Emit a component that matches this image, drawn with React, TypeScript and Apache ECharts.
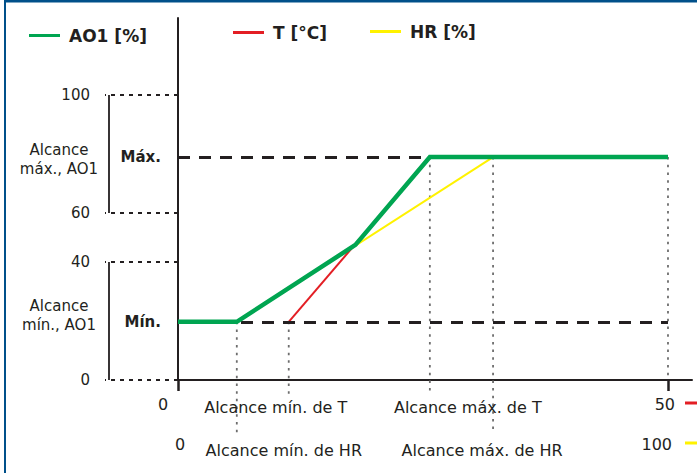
import React, { useEffect, useRef } from 'react';
import * as echarts from 'echarts';

// ---- data ----
// x axis 1: temperature T [°C], 0..50 ; x axis 2: humidity HR [%], 0..100
// y axis: AO1 [%] drawn on a schematic (display) scale
const tNames = ['AO1 [%]', 'T [°C]', 'HR [%]'];
const ao1X = [0, 6.0, 18.1, 25.7, 50]; // in T units
const ao1Y = [20.4, 20.4, 47.4, 78.2, 78.2];
const tX = [11.3, 25.7];
const tY = [20.4, 78.2];
const hrX = [12.0, 64.3];
const hrY = [20.4, 78.2];
const levelNames = ['Máx.', 'Mín.'];
const levelValues = [78.2, 20.4];
const yTickValues = [0, 41.4, 58.6, 100];
const yTickLabels = ['0', '40', '60', '100'];
const xTickValuesT = [0, 50];

const INK = '#231f20';
const GREEN = '#00a551';
const RED = '#e31e24';
const YELLOW = '#fff200';
const BLUE = '#00508a';
const FONT = '"DejaVu Sans", Verdana, sans-serif';

const zip = (xs: number[], ys: number[]) => xs.map((x, i) => [x, ys[i]]);

export default function App() {
  const ref = useRef<HTMLDivElement>(null);
  useEffect(() => {
    const chart = echarts.init(ref.current!, null, { renderer: 'svg' });
    const legendBase = {
      icon: 'rect',
      itemWidth: 31,
      itemHeight: 3,
      selectedMode: false,
      textStyle: { fontSize: 17, fontWeight: 'bold', color: INK, fontFamily: FONT, padding: [0, 0, 0, 4] },
    };
    chart.setOption({
      animation: false,
      textStyle: { fontFamily: FONT },
      legend: [
        { ...legendBase, data: [tNames[0]], left: 24, top: 22 },
        { ...legendBase, data: [tNames[1]], left: 228, top: 19 },
        { ...legendBase, data: [tNames[2]], left: 365, top: 18 },
      ],
      grid: { left: 178, top: 18, width: 514, height: 362, containLabel: false, outerBoundsMode: 'none' },
      xAxis: [
        {
          type: 'value',
          min: 0,
          max: 52.45,
          axisLine: { show: true, onZero: false, lineStyle: { color: INK, width: 2 } },
          axisTick: { show: true, customValues: xTickValuesT, length: 11, lineStyle: { color: INK, width: 2.5 } },
          axisLabel: { show: false },
          splitLine: { show: false },
        },
        {
          type: 'value',
          min: 0,
          max: 104.9,
          show: false,
          splitLine: { show: false },
        },
      ],
      yAxis: {
        type: 'value',
        min: 0,
        max: 127,
        axisLine: { show: true, onZero: false, lineStyle: { color: INK, width: 2 } },
        axisTick: {
          show: true,
          customValues: yTickValues,
          length: 73,
          lineStyle: { color: INK, width: 2, type: [4, 5] },
        },
        axisLabel: {
          show: true,
          customValues: yTickValues,
          margin: 88,
          fontSize: 15,
          color: INK,
          fontFamily: FONT,
          formatter: (v: number) => {
            let best = 0;
            yTickValues.forEach((t, i) => {
              if (Math.abs(t - v) < Math.abs(yTickValues[best] - v)) best = i;
            });
            return yTickLabels[best];
          },
        },
        splitLine: { show: false },
      },
      series: [
        {
          name: tNames[0],
          type: 'line',
          xAxisIndex: 0,
          data: zip(ao1X, ao1Y),
          showSymbol: false,
          symbol: 'none',
          z: 5,
          lineStyle: { color: GREEN, width: 4.5, join: 'miter' },
          itemStyle: { color: GREEN },
        },
        {
          name: tNames[1],
          type: 'line',
          xAxisIndex: 0,
          data: zip(tX, tY),
          showSymbol: false,
          symbol: 'none',
          z: 3,
          lineStyle: { color: RED, width: 2 },
          itemStyle: { color: RED },
          markLine: {
            silent: true,
            symbol: 'none',
            lineStyle: { color: INK, width: 3, type: [12, 9] },
            label: {
              show: true,
              position: 'start',
              distance: 17,
              formatter: (p: any) => p.name,
              fontSize: 15,
              fontWeight: 'bold',
              color: INK,
              fontFamily: FONT,
            },
            emphasis: { disabled: true },
            data: levelValues.map((v, i) => [
              { coord: [xTickValuesT[0], v], name: levelNames[i] },
              { coord: [xTickValuesT[1], v] },
            ]),
          },
        },
        {
          name: tNames[2],
          type: 'line',
          xAxisIndex: 1,
          data: zip(hrX, hrY),
          showSymbol: false,
          symbol: 'none',
          z: 3,
          lineStyle: { color: YELLOW, width: 2 },
          itemStyle: { color: YELLOW },
        },
      ],
    });

    // ---- decorations positioned through the chart's own scales ----
    const yPx = (v: number) => chart.convertToPixel({ yAxisIndex: 0 }, v) as number;
    const tPx = (v: number) => chart.convertToPixel({ xAxisIndex: 0 }, v) as number;
    const hPx = (v: number) => chart.convertToPixel({ xAxisIndex: 1 }, v) as number;
    const yAxisX = tPx(0);
    const xAxisY = yPx(0);
    const bracketX = yAxisX - 69;

    const dotted = (x: number, y1: number, y2: number) => ({
      type: 'line',
      z: 1,
      silent: true,
      shape: { x1: x, y1, x2: x, y2 },
      style: { stroke: '#6d6d6d', lineWidth: 1.8, lineDash: [2.5, 5.2] },
    });
    const solid = (x1: number, y1: number, x2: number, y2: number, color: string, w: number) => ({
      type: 'line',
      z: 1,
      silent: true,
      shape: { x1, y1, x2, y2 },
      style: { stroke: color, lineWidth: w },
    });
    const txt = (x: number, y: number, text: string, opts: any = {}) => ({
      type: 'text',
      z: 10,
      silent: true,
      x,
      y,
      style: {
        text,
        fill: INK,
        fontSize: opts.fontSize ?? 16,
        fontWeight: opts.fontWeight ?? 'normal',
        fontFamily: FONT,
        align: opts.align ?? 'center',
        verticalAlign: 'middle',
        lineHeight: opts.lineHeight ?? 19,
      },
    });

    const rowT = xAxisY + 25;
    const rowHR = xAxisY + 66;

    chart.setOption({
      graphic: [
        // frame
        { type: 'rect', silent: true, shape: { x: 4, y: 0, width: 693, height: 2.5 }, style: { fill: BLUE } },
        { type: 'rect', silent: true, shape: { x: 4, y: 0, width: 2, height: 473 }, style: { fill: BLUE } },
        // brackets
        solid(bracketX, yPx(yTickValues[3]), bracketX, yPx(yTickValues[2]), INK, 1.8),
        solid(bracketX, yPx(yTickValues[1]), bracketX, yPx(yTickValues[0]), INK, 1.8),
        // vertical guides
        dotted(tPx(tX[0]), yPx(tY[0]), rowT - 8),
        dotted(tPx(tX[1]), yPx(tY[1]), rowT - 10),
        dotted(hPx(hrX[0]), yPx(hrY[0]), rowHR - 13),
        dotted(hPx(hrX[1]), yPx(hrY[1]), rowHR - 13),
        dotted(tPx(xTickValuesT[1]), yPx(levelValues[0]), xAxisY),
        // left range labels
        txt(59, yPx(levelValues[0]) + 2, 'Alcance\nmáx., AO1', { fontSize: 15 }),
        txt(59, yPx(levelValues[1]) - 6, 'Alcance\nmín., AO1', { fontSize: 15 }),
        // x labels, T row
        txt(yAxisX - 15, rowT - 1, '0'),
        txt(tPx(tX[0]) - 13, rowT + 2, 'Alcance mín. de T'),
        txt(tPx(tX[1]) + 38, rowT + 2, 'Alcance máx. de T'),
        txt(675, rowT - 1, '50', { align: 'right' }),
        solid(685, rowT - 2, 697, rowT - 2, RED, 3),
        // x labels, HR row
        txt(yAxisX + 2, rowHR - 2, '0'),
        txt(hPx(hrX[0]) + 47, rowHR + 4, 'Alcance mín. de HR'),
        txt(hPx(hrX[1]) - 11, rowHR + 4, 'Alcance máx. de HR'),
        txt(672, rowHR - 2, '100', { align: 'right' }),
        solid(685, rowHR - 3, 697, rowHR - 3, YELLOW, 3),
      ],
    });

    return () => chart.dispose();
  }, []);

  return (
    <div
      ref={ref}
      style={{ position: 'fixed', left: 0, top: 0, width: 697, height: 473, background: '#fff' }}
    />
  );
}
